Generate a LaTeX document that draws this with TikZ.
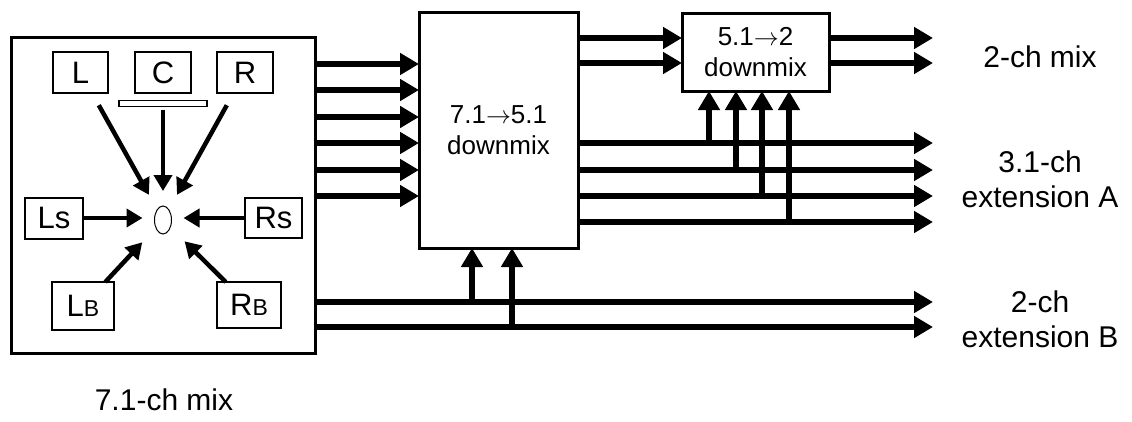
\documentclass[tikz,border=0pt]{standalone}
\usepackage{fontspec}
\setmainfont{Liberation Sans}
\usetikzlibrary{arrows.meta,shapes.geometric}
\begin{document}
\begin{tikzpicture}[x=1pt,y=-1pt,
  box/.style={draw, line width=3pt, inner sep=0pt, outer sep=0pt, fill=white},
  spk/.style={draw, line width=2pt, inner sep=0pt, outer sep=0pt, fill=white, font=\fontsize{31}{33}\selectfont},
  conn/.style={line width=6pt, -{Triangle[length=19pt,width=21pt]}},
  sarrow/.style={line width=4.5pt, -{Triangle[length=16pt,width=18pt]}},
  lbl/.style={align=center, font=\fontsize{30}{35}\selectfont, inner sep=0pt},
  dmtext/.style={align=center, font=\fontsize{26}{31}\selectfont}
]
\useasboundingbox (0,0) rectangle (1132,421);

% main boxes
\node[box, minimum width=304pt, minimum height=316pt] (mix71) at (163,195) {};
\node[box, minimum width=159pt, minimum height=236pt, dmtext] (dm75) at (498.5,130) {7.1$\rightarrow$5.1\\downmix};
\node[box, minimum width=147pt, minimum height=78pt, dmtext] (dm52) at (755.5,52) {5.1$\rightarrow$2\\downmix};

% speakers
\node[spk, minimum width=55pt, minimum height=41pt] (L) at (80.5,72.5) {L};
\node[spk, minimum width=56pt, minimum height=41pt] (C) at (163,72.5) {C};
\node[spk, minimum width=56pt, minimum height=41pt] (R) at (245,72.5) {R};
\node[draw, line width=1.5pt, inner sep=0pt, outer sep=0pt, minimum width=88pt, minimum height=6pt] (bar) at (163,103.5) {};
\node[spk, minimum width=58pt, minimum height=41pt] (Ls) at (54,218) {Ls};
\node[spk, minimum width=57pt, minimum height=40pt] (Rs) at (273.5,218) {Rs};
\node[spk, minimum width=62pt, minimum height=48pt] (LB) at (83,306) {L{\fontsize{23}{24}\selectfont B}};
\node[spk, minimum width=64pt, minimum height=46pt] (RB) at (249,305) {R{\fontsize{23}{24}\selectfont B}};
\node[draw, line width=1pt, ellipse, inner sep=0pt, outer sep=0pt, minimum width=17pt, minimum height=28pt] (lis) at (163,220) {};

% arrows to listener
\draw[sarrow, shorten <=14pt, shorten >=17pt] (L) -- (lis);
\draw[sarrow, shorten <=14pt, shorten >=17pt] (R) -- (lis);
\draw[sarrow, shorten <=3pt, shorten >=15pt] (bar) -- (lis);
\draw[sarrow, shorten >=12pt] (Ls.east) -- (Ls.east -| lis.west);
\draw[sarrow, shorten >=12pt] (Rs.west) -- (Rs.west -| lis.east);
\draw[sarrow, shorten >=20pt] (LB) -- (lis);
\draw[sarrow, shorten >=20pt] (RB) -- (lis);

% free ends on the right
\foreach \n/\y in {o1/38,o2/63,o3/143,o4/170,o5/196,o6/222,o7/302,o8/327}
  \coordinate (\n) at (933,\y);
% tap points
\coordinate (t1) at (709,143);
\coordinate (t2) at (736,170);
\coordinate (t3) at (762,196);
\coordinate (t4) at (789,222);
\coordinate (t5) at (472,302);
\coordinate (t6) at (512,327);

% 7.1 mix -> 7.1->5.1 downmix
\foreach \y in {64,90,117,143,170,196}
  \draw[conn] (mix71.east |- 0,\y) -- (dm75.west |- 0,\y);
% 7.1->5.1 -> 5.1->2
\foreach \y in {38,63}
  \draw[conn] (dm75.east |- 0,\y) -- (dm52.west |- 0,\y);
% 5.1->2 -> out
\draw[conn] (dm52.east |- o1) -- (o1);
\draw[conn] (dm52.east |- o2) -- (o2);
% extension A
\draw[conn] (dm75.east |- o3) -- (o3);
\draw[conn] (dm75.east |- o4) -- (o4);
\draw[conn] (dm75.east |- o5) -- (o5);
\draw[conn] (dm75.east |- o6) -- (o6);
% extension B
\draw[conn] (mix71.east |- o7) -- (o7);
\draw[conn] (mix71.east |- o8) -- (o8);
% taps
\foreach \t in {t1,t2,t3,t4}
  \draw[conn] (\t) -- (\t |- dm52.south);
\foreach \t in {t5,t6}
  \draw[conn] (\t) -- (\t |- dm75.south);

% labels
\node[lbl] (l2ch) at (1040,57) {2-ch mix};
\node[lbl] (lextA) at (1040,179) {3.1-ch\\extension A};
\node[lbl] (lextB) at (1040,319) {2-ch\\extension B};
\node[lbl] (l71) at (164,400) {7.1-ch mix};
\end{tikzpicture}
\end{document}
